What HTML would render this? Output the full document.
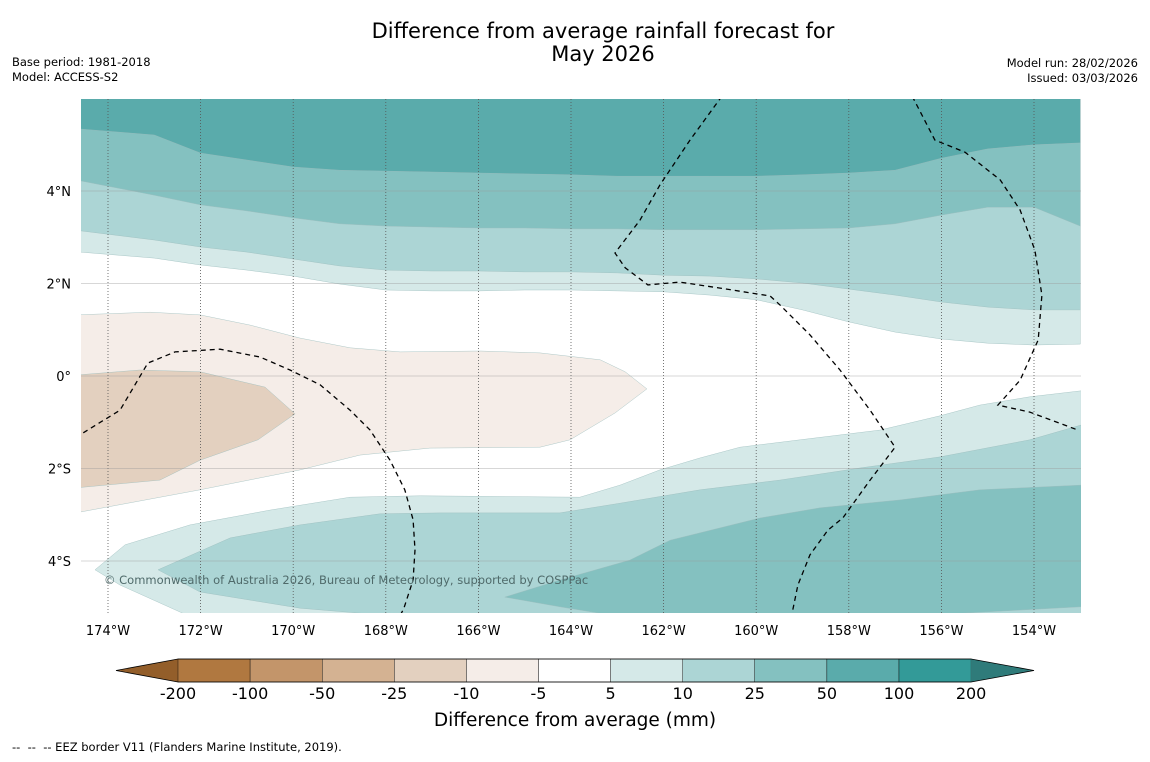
<!DOCTYPE html>
<html><head><meta charset="utf-8"><style>
html,body{margin:0;padding:0;background:#fff;}
body{width:1150px;height:758px;overflow:hidden;font-family:"DejaVu Sans","Liberation Sans",sans-serif;}
svg text{font-family:"DejaVu Sans","Liberation Sans",sans-serif;}
</style></head><body>
<svg id="chart" width="1150" height="758" viewBox="0 0 1150 758" xmlns="http://www.w3.org/2000/svg">
<text x="603" y="38" font-size="21" text-anchor="middle" fill="#000">Difference from average rainfall forecast for</text>
<text x="603" y="61" font-size="21" text-anchor="middle" fill="#000">May 2026</text>
<text x="12" y="66" font-size="11.5">Base period: 1981-2018</text>
<text x="12" y="81" font-size="11.5">Model: ACCESS-S2</text>
<text x="1138" y="67" font-size="11.5" text-anchor="end">Model run: 28/02/2026</text>
<text x="1138" y="82" font-size="11.5" text-anchor="end">Issued: 03/03/2026</text>
<defs><clipPath id="mapclip"><rect x="81" y="99" width="1000" height="514"/></clipPath></defs>
<g id="map" clip-path="url(#mapclip)"></g>
<g id="axes"></g>
<g id="cbar"></g>
<text x="575" y="726" font-size="18.5" text-anchor="middle">Difference from average (mm)</text>
<text x="12" y="751" font-size="11.5" xml:space="preserve">--  --  -- EEZ border V11 (Flanders Marine Institute, 2019).</text>
</svg>
<script>
// ---- data ----
const lonStations=[-174.6,-173,-172,-171,-170,-169,-168,-167,-166,-165,-164,-163,-162,-161,-160,-159,-158,-157,-156,-155,-154,-153];
const north5=[2.68,2.55,2.40,2.29,2.16,1.99,1.86,1.84,1.84,1.86,1.86,1.84,1.82,1.75,1.65,1.43,1.17,0.95,0.80,0.71,0.67,0.69];
const north10=[3.14,2.94,2.79,2.68,2.53,2.38,2.29,2.27,2.27,2.25,2.25,2.23,2.18,2.16,2.10,2.01,1.88,1.75,1.60,1.49,1.43,1.43];
const north25=[4.22,3.91,3.70,3.57,3.42,3.29,3.24,3.22,3.20,3.20,3.18,3.18,3.16,3.16,3.16,3.18,3.20,3.29,3.48,3.65,3.65,3.24];
const north50=[5.34,5.21,4.82,4.67,4.52,4.45,4.43,4.41,4.39,4.37,4.35,4.32,4.32,4.32,4.32,4.35,4.39,4.45,4.71,4.91,5.00,5.04];
const south5=[[-174.28,-4.19],[-173.63,-3.65],[-172.23,-3.22],[-170.50,-2.90],[-168.77,-2.62],[-167.26,-2.59],[-163.81,-2.62],[-162.94,-2.36],[-162.08,-2.03],[-161.21,-1.77],[-160.35,-1.54],[-159.05,-1.38],[-157.33,-1.17],[-156.03,-0.86],[-155.17,-0.63],[-154.09,-0.45],[-152.98,-0.32],[-152.98,-5.2],[-172.23,-5.2],[-173.74,-4.52]];
const south10=[[-172.92,-4.19],[-171.36,-3.50],[-169.85,-3.22],[-168.13,-2.98],[-166.83,-2.96],[-164.24,-2.96],[-162.94,-2.75],[-161.21,-2.46],[-159.49,-2.25],[-157.76,-1.99],[-156.03,-1.75],[-154.09,-1.38],[-152.98,-1.06],[-152.98,-5.2],[-167.69,-5.2],[-169.85,-5.02],[-172.01,-4.67]];
const south25=[[-165.43,-4.78],[-164.24,-4.41],[-162.73,-3.98],[-161.86,-3.55],[-159.92,-3.07],[-158.62,-2.85],[-156.89,-2.68],[-155.17,-2.46],[-153.87,-2.40],[-152.98,-2.36],[-152.98,-4.99],[-156.89,-5.2],[-162.94,-5.2],[-164.24,-4.99]];
const dry5=[[-174.7,1.32],[-173.09,1.38],[-172.01,1.32],[-170.93,1.10],[-169.85,0.82],[-168.77,0.61],[-167.69,0.52],[-165.97,0.54],[-164.67,0.50],[-163.37,0.35],[-162.83,0.09],[-162.36,-0.28],[-163.05,-0.80],[-164.02,-1.38],[-164.67,-1.54],[-167.05,-1.56],[-168.56,-1.71],[-169.85,-2.03],[-172.01,-2.46],[-174.7,-2.96]];
const dry10=[[-174.7,0.02],[-173.31,0.13],[-172.01,0.09],[-170.61,-0.24],[-169.96,-0.82],[-170.76,-1.38],[-172.01,-1.82],[-172.88,-2.25],[-174.7,-2.42]];
const eezA=[[-174.7,-1.33],[-173.74,-0.74],[-173.14,0.28],[-172.55,0.52],[-171.58,0.58],[-170.72,0.41],[-170.07,0.13],[-169.42,-0.19],[-168.77,-0.74],[-168.34,-1.17],[-167.91,-1.82],[-167.59,-2.46],[-167.41,-3.11],[-167.37,-3.76],[-167.41,-4.41],[-167.61,-5.02],[-167.7,-5.2]];
const eezB=[[-160.74,6.05],[-161.43,5.10],[-162.08,4.13],[-162.51,3.37],[-163.05,2.66],[-162.83,2.34],[-162.34,1.97],[-161.65,2.03],[-160.78,1.90],[-159.70,1.73],[-159.49,1.54],[-158.84,0.89],[-158.19,0.13],[-157.54,-0.74],[-157.00,-1.54],[-157.54,-2.25],[-158.13,-3.07],[-158.45,-3.33],[-158.84,-3.87],[-159.10,-4.52],[-159.23,-5.15]];
const eezC=[[-156.63,6.05],[-156.14,5.10],[-155.49,4.84],[-154.73,4.24],[-154.30,3.59],[-153.98,2.72],[-153.83,1.75],[-153.91,0.78],[-154.30,-0.09],[-154.78,-0.63],[-154.09,-0.78],[-153.05,-1.17]];
const lonTicks=[-174,-172,-170,-168,-166,-164,-162,-160,-158,-156,-154];
const lonLabels=["174°W","172°W","170°W","168°W","166°W","164°W","162°W","160°W","158°W","156°W","154°W"];
const latTicks=[4,2,0,-2,-4];
const latLabels=["4°N","2°N","0°","2°S","4°S"];
const cbarLabels=["-200","-100","-50","-25","-10","-5","5","10","25","50","100","200"];
const cbarColors=["#b07840","#c3956a","#d4b292","#e3d0bf","#f5ede8","#ffffff","#d5e9e8","#acd5d5","#84c1c0","#5aabab","#339a98"];
// ---- axes ----
const X=lon=>108+(lon+174)*46.3;
const Y=lat=>376-lat*46.25;
const NS="http://www.w3.org/2000/svg";
function mk(tag,attrs,parent){const e=document.createElementNS(NS,tag);for(const k in attrs)e.setAttribute(k,attrs[k]);parent.appendChild(e);return e;}
const map=document.getElementById('map'),axes=document.getElementById('axes'),cbar=document.getElementById('cbar');
function polyPts(arr){return arr.map(p=>X(p[0]).toFixed(1)+','+Y(p[1]).toFixed(1)).join(' ');}
function aboveCurve(lats){const pts=lonStations.map((l,i)=>[l,lats[i]]);pts.push([-153,6.2]);pts.push([-174.7,6.2]);return pts;}
function band(pts,color,name){const e=mk('polygon',{points:polyPts(pts),fill:color,stroke:'#9bbcbc','stroke-width':0.4},map);

}
band(aboveCurve(north5),'#d5e9e8','north-band-5-10');
band(aboveCurve(north10),'#acd5d5','north-band-10-25');
band(aboveCurve(north25),'#84c1c0','north-band-25-50');
band(aboveCurve(north50),'#5aabab','north-band-50-100');
band(south5,'#d5e9e8','south-band-5-10');
band(south10,'#acd5d5','south-band-10-25');
band(south25,'#84c1c0','south-band-25-50');
band(dry5,'#f5ede8','dry-band-minus10-minus5');
band(dry10,'#e3d0bf','dry-band-minus25-minus10');
lonTicks.forEach(l=>{const e=mk('line',{x1:X(l),x2:X(l),y1:99,y2:613,stroke:'#555','stroke-width':0.8,'stroke-dasharray':'1,2'},map);

});
latTicks.forEach(l=>{const e=mk('line',{x1:81,x2:1081,y1:Y(l),y2:Y(l),stroke:'#999','stroke-width':0.6,opacity:0.8},map);

});
[eezA,eezB,eezC].forEach(a=>{const e=mk('polyline',{points:polyPts(a),fill:'none',stroke:'#000','stroke-width':1.3,'stroke-dasharray':'5,4'},map);

});
const cr=mk('text',{x:104,y:584,'font-size':11.5,fill:'#4f6a6a'},map);cr.textContent='© Commonwealth of Australia 2026, Bureau of Meteorology, supported by COSPPac';


lonTicks.forEach((l,i)=>{const t=mk('text',{x:X(l),y:635,'font-size':13,'text-anchor':'middle'},axes);t.textContent=lonLabels[i];

});
latTicks.forEach((l,i)=>{const t=mk('text',{x:71,y:Y(l)+5,'font-size':13,'text-anchor':'end'},axes);t.textContent=latLabels[i];

});
// ---- colorbar ----
const cbX0=178,cbW=72.1,cbY=659,cbH=23;
const lt=mk('polygon',{points:`116,${cbY+cbH/2} ${cbX0},${cbY} ${cbX0},${cbY+cbH}`,fill:'#935e2a'},cbar);


cbarColors.forEach((c,i)=>{const r=mk('rect',{x:cbX0+i*cbW,y:cbY,width:cbW,height:cbH,fill:c,stroke:'#000','stroke-width':0.4},cbar);

});
const xe=cbX0+cbarColors.length*cbW;
const rt=mk('polygon',{points:`${xe},${cbY} 1034,${cbY+cbH/2} ${xe},${cbY+cbH}`,fill:'#2f7b7a'},cbar);


mk('polygon',{points:`116,${cbY+cbH/2} ${cbX0},${cbY} ${xe},${cbY} 1034,${cbY+cbH/2} ${xe},${cbY+cbH} ${cbX0},${cbY+cbH}`,fill:'none',stroke:'#000','stroke-width':0.8},cbar);
cbarLabels.forEach((s,i)=>{const t=mk('text',{x:cbX0+i*cbW,y:699,'font-size':16,'text-anchor':'middle'},cbar);t.textContent=s;

});
</script>
</body></html>
